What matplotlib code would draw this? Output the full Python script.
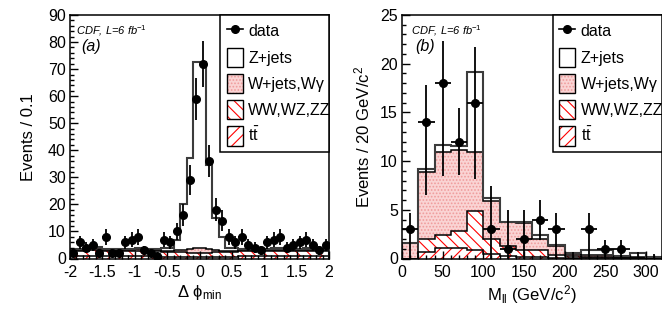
import matplotlib
matplotlib.use('Agg')
import matplotlib.pyplot as plt
import numpy as np
from matplotlib.patches import Patch
from matplotlib.lines import Line2D
from matplotlib.legend_handler import HandlerTuple
from matplotlib.ticker import MultipleLocator

plt.rcParams['font.family'] = ['Liberation Sans', 'DejaVu Sans']
plt.rcParams['mathtext.fontset'] = 'custom'
plt.rcParams['mathtext.rm'] = 'Liberation Sans'
plt.rcParams['mathtext.it'] = 'Liberation Sans:italic'
plt.rcParams['hatch.linewidth'] = 0.8

# ---- (a) delta phi_min, bins of 0.1 from -2 to 2
dphi_lo, dphi_hi, dphi_w = -2.0, 2.0, 0.1
data_a = [2, 6, 4, 5, 2, 8, 2, 2, 6, 7, 8, 3, 2, 1, 7, 6, 10, 16, 29, 59,
          72, 36, 18, 14, 8, 6, 8, 5, 4, 3, 6, 7, 8, 4, 5, 6, 7, 5, 3, 5]
tt_a = [0.9, 0.9, 0.9, 1.0, 1.0, 0.9, 0.9, 0.9, 0.8, 0.8, 0.9, 0.8, 0.8, 0.8, 0.7, 0.7, 0.6, 0.6, 0.5, 0.5,
        0.5, 0.5, 0.6, 0.6, 0.7, 0.7, 0.8, 0.8, 0.8, 0.8, 0.9, 0.9, 0.9, 0.9, 0.8, 0.8, 0.9, 0.9, 0.9, 0.9]
ww_a = [1.9, 1.9, 1.9, 2.0, 2.0, 1.9, 1.9, 1.9, 1.9, 1.9, 2.0, 1.9, 1.9, 1.9, 1.8, 1.7, 1.7, 1.7, 1.7, 1.7,
        1.7, 1.7, 1.7, 1.7, 1.7, 1.8, 1.9, 1.9, 1.9, 1.9, 1.9, 1.9, 1.9, 1.9, 1.9, 1.9, 1.9, 1.9, 1.9, 1.9]
wj_a = [0.3, 0.3, 0.3, 0.8, 0.7, 0.3, 0.3, 0.3, 0.4, 0.4, 0.6, 0.4, 0.3, 0.3, 0.4, 0.5, 0.8, 1.0, 1.3, 1.6,
        1.7, 1.3, 0.9, 0.6, 0.5, 0.4, 0.3, 0.3, 0.3, 0.3, 0.3, 0.3, 0.3, 0.3, 0.3, 0.3, 0.3, 0.3, 0.3, 0.3]
zj_a = [0.5, 0.5, 0.6, 0.7, 0.7, 0.5, 0.4, 0.3, 0.4, 0.5, 0.5, 0.5, 0.5, 0.4, 0.8, 1.0, 3.9, 16.7, 33.5, 68.7,
        68.6, 31.0, 11.8, 5.1, 1.0, 0.8, 0.6, 0.5, 0.6, 0.5, 0.5, 0.6, 0.6, 0.5, 0.5, 0.6, 0.6, 0.5, 0.4, 0.4]

# ---- (b) dilepton mass, bins of 20 GeV/c^2 from 0 to 320
mll_lo, mll_hi, mll_w = 0, 320, 20
data_b = [3, 14, 18, 12, 16, 3, 1, 2, 4, 3, 0, 3, 1, 1, 0, 0]
err_lo_b = [3.0, 7.5, 9.5, 3.4, 7.8, 3.0, 1.0, 2.0, 2.1, 3.0, 0.0, 3.0, 1.0, 1.0, 0.0, 0.0]
err_hi_b = [1.7, 3.8, 4.3, 3.5, 5.7, 4.4, 4.0, 3.0, 2.0, 1.7, 0.7, 1.7, 0.9, 0.9, 0.7, 0.5]
tt_b = [0.0, 0.7, 1.1, 1.1, 0.9, 0.5, 0.3, 0.2, 0.15, 0.1, 0.05, 0.05, 0.05, 0.03, 0.02, 0.02]
ww_b = [0.0, 1.3, 1.3, 1.7, 4.0, 1.5, 1.0, 0.7, 0.75, 0.25, 0.25, 0.15, 0.15, 0.07, 0.06, 0.03]
wj_b = [1.6, 6.9, 8.5, 8.3, 6.0, 3.9, 2.4, 2.7, 1.1, 0.95, 0.2, 0.2, 0.2, 0.1, 0.07, 0.05]
zj_b = [0.0, 0.3, 0.8, 0.5, 8.2, 0.3, 0.05, 0.15, 0.4, 0.1, 0.1, 0.5, 0.5, 0.05, 0.45, 0.1]

labels = ['data', 'Z+jets', 'W+jets,W\u03b3', 'WW,WZ,ZZ', r'$\mathrm{t}\bar{\mathrm{t}}$']
PINK = '#fad4d4'
PINK_DOT = '#ef9c9c'
HATCH_WW = '\\\\\\'
HATCH_TT = '///'


def draw_stack(ax, edges, tt, ww, wj, zj):
    c1 = np.asarray(tt, float)
    c2 = c1 + ww
    c3 = c2 + wj
    c4 = c3 + zj
    ax.stairs(c4, edges, baseline=c3, fill=True, facecolor='white', linewidth=0)
    ax.stairs(c3, edges, baseline=c2, fill=True, facecolor=PINK, edgecolor=PINK_DOT,
              hatch='.....', linewidth=0)
    ax.stairs(c2, edges, baseline=c1, fill=True, facecolor='white', edgecolor='red',
              hatch=HATCH_WW, linewidth=0)
    ax.stairs(c1, edges, baseline=0, fill=True, facecolor='white', edgecolor='red',
              hatch=HATCH_TT, linewidth=0)
    for c in (c1, c2, c3):
        ax.stairs(c, edges, color='k', linewidth=1.1)
    ax.stairs(c4, edges, color='#3c3c3c', linewidth=1.5)


def style_axes(ax):
    for s in ax.spines.values():
        s.set_linewidth(1.1)
    ax.tick_params(which='both', direction='in', top=False, right=False,
                   labelsize=11.5, width=1)
    ax.tick_params(which='major', length=6)
    ax.tick_params(which='minor', length=3)
    ax.tick_params(axis='x', pad=5)
    ax.tick_params(axis='y', pad=3)


def add_legend(ax):
    h_data = Line2D([], [], color='k', marker='o', ms=5.5, lw=1.2)
    frame = dict(facecolor='none', edgecolor='k', linewidth=1)
    h_z = Patch(facecolor='white', edgecolor='k', linewidth=1)
    h_w = (Patch(facecolor=PINK, edgecolor=PINK_DOT, hatch='.....', linewidth=0), Patch(**frame))
    h_v = (Patch(facecolor='white', edgecolor='red', hatch=HATCH_WW, linewidth=0), Patch(**frame))
    h_t = (Patch(facecolor='white', edgecolor='red', hatch=HATCH_TT, linewidth=0), Patch(**frame))
    leg = ax.legend([h_data, h_z, h_w, h_v, h_t], labels,
                    handler_map={tuple: HandlerTuple(ndivide=1, pad=0)},
                    loc='upper right', bbox_to_anchor=(0.58, 0.433, 0.42, 0.567),
                    mode='expand', borderaxespad=0, fancybox=False, framealpha=1,
                    edgecolor='k', fontsize=11.5, handlelength=1.0, handleheight=1.5,
                    handletextpad=0.35, labelspacing=0.42, borderpad=0.4)
    leg.get_frame().set_linewidth(1.1)
    return leg


fig = plt.figure(figsize=(6.62, 3.14), dpi=100)
ax_a = fig.add_axes([70 / 662, 1 - 258.5 / 314, 259 / 662, 243.5 / 314])
ax_b = fig.add_axes([402 / 662, 1 - 258.5 / 314, 260 / 662, 243.5 / 314])

# panel (a)
edges_a = np.arange(dphi_lo, dphi_hi + dphi_w / 2, dphi_w)
cent_a = edges_a[:-1] + dphi_w / 2
draw_stack(ax_a, edges_a, tt_a, ww_a, wj_a, zj_a)
ax_a.errorbar(cent_a, data_a, yerr=np.sqrt(data_a), xerr=dphi_w / 2, fmt='o', color='k',
              ms=5.5, elinewidth=1.3, capsize=0, zorder=5)
ax_a.set_xlim(dphi_lo, dphi_hi)
ax_a.set_ylim(0, 90)
ax_a.xaxis.set_major_locator(MultipleLocator(0.5))
ax_a.xaxis.set_minor_locator(MultipleLocator(0.1))
ax_a.yaxis.set_major_locator(MultipleLocator(10))
ax_a.yaxis.set_minor_locator(MultipleLocator(2))
ax_a.xaxis.set_major_formatter(plt.FuncFormatter(lambda v, p: '%g' % v))
ax_a.set_ylabel('Events / 0.1', fontsize=12)
ax_a.set_xlabel('\u0394 \u03d5$_{\\rm min}$', fontsize=12)
ax_a.yaxis.set_label_coords(-0.13, 0.5)
ax_a.xaxis.set_label_coords(0.5, -0.1)
ax_a.text(0.025, 0.965, 'CDF, L=6 fb$^{-1}$', transform=ax_a.transAxes, fontsize=8,
          style='italic', va='top')
ax_a.text(0.045, 0.9, '(a)', transform=ax_a.transAxes, fontsize=11.5, style='italic', va='top')
style_axes(ax_a)
add_legend(ax_a)

# panel (b)
edges_b = np.arange(mll_lo, mll_hi + 1, mll_w)
cent_b = edges_b[:-1] + mll_w / 2
draw_stack(ax_b, edges_b, tt_b, ww_b, wj_b, zj_b)
db = np.array(data_b, float)
lo = np.array(err_lo_b)
hi = np.array(err_hi_b)
nz = db > 0
ax_b.errorbar(cent_b[nz], db[nz], yerr=[lo[nz], hi[nz]], xerr=mll_w / 2, fmt='o', color='k',
              ms=5.5, elinewidth=1.3, capsize=0, zorder=5)
ax_b.errorbar(cent_b[~nz], db[~nz], yerr=[lo[~nz], hi[~nz]], xerr=mll_w / 2, fmt='none',
              ecolor='k', elinewidth=1.3, capsize=0, zorder=5)
ax_b.set_xlim(mll_lo, mll_hi)
ax_b.set_ylim(0, 25)
ax_b.xaxis.set_major_locator(MultipleLocator(50))
ax_b.xaxis.set_minor_locator(MultipleLocator(10))
ax_b.yaxis.set_major_locator(MultipleLocator(5))
ax_b.yaxis.set_minor_locator(MultipleLocator(1))
ax_b.set_ylabel('Events / 20 GeV/c$^{2}$', fontsize=12)
ax_b.set_xlabel('M$_{\\rm ll}$ (GeV/c$^{2}$)', fontsize=12)
ax_b.yaxis.set_label_coords(-0.115, 0.5)
ax_b.xaxis.set_label_coords(0.5, -0.1)
ax_b.text(0.035, 0.965, 'CDF, L=6 fb$^{-1}$', transform=ax_b.transAxes, fontsize=8,
          style='italic', va='top')
ax_b.text(0.05, 0.9, '(b)', transform=ax_b.transAxes, fontsize=11.5, style='italic', va='top')
style_axes(ax_b)
add_legend(ax_b)

fig.savefig('out.png', dpi=100)
